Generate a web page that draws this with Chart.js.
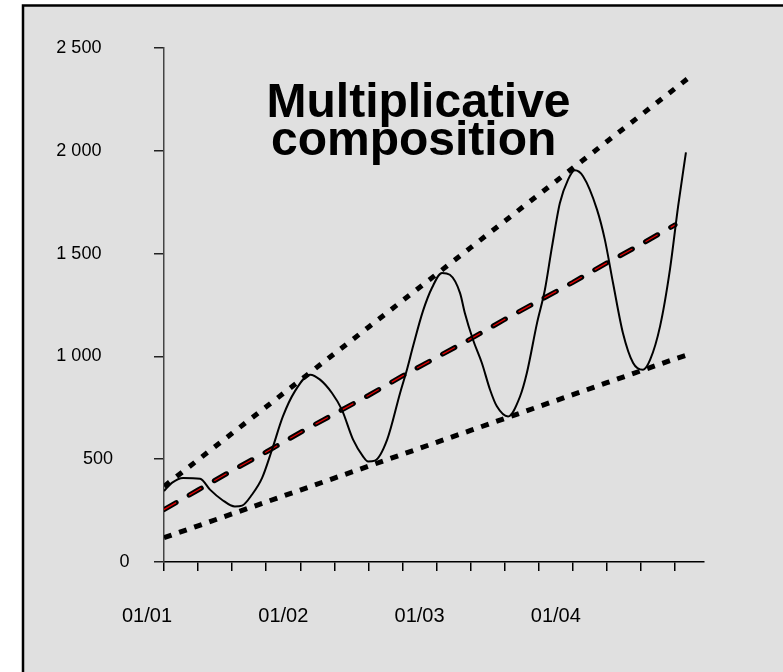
<!DOCTYPE html>
<html>
<head>
<meta charset="utf-8">
<script src="https://cdn.jsdelivr.net/npm/chart.js@4.4.1/dist/chart.umd.min.js"></script>
<style>
  html, body { margin: 0; padding: 0; background: #fff; }
  canvas { display: block; }
</style>
</head>
<body>
<canvas id="chart" width="783" height="672"></canvas>
<script>
// x axis: weeks counted from 01/01, four ticks per month
const monthLabels = ['01/01', '01/02', '01/03', '01/04'];
const ticksPerMonth = 4;
const xMaxWeeks = 15.85;
const yMax = 2500;
const yStep = 500;

// Observed series (solid line)
const seriesWeeks = [0.00, 0.23, 0.56, 1.06, 1.35, 1.70, 2.08, 2.29, 2.58, 2.88,
  3.17, 3.49, 3.84, 4.29, 4.58, 4.93, 5.22, 5.55, 5.84, 5.99,
  6.19, 6.55, 6.93, 7.13, 7.31, 7.60, 7.87, 8.16, 8.39, 8.69,
  8.83, 9.07, 9.33, 9.57, 9.77, 10.10, 10.45, 10.65, 10.95, 11.18,
  11.39, 11.62, 11.86, 12.06, 12.30, 12.71, 12.94, 13.18, 13.47, 13.77,
  14.06, 14.27, 14.56, 14.85, 15.09, 15.32];
const seriesValues = [345, 385, 409, 405, 352, 303, 270, 274, 327, 409,
  546, 708, 830, 911, 887, 822, 741, 595, 514, 489,
  493, 595, 822, 935, 1049, 1220, 1335, 1406, 1397, 1308,
  1211, 1081, 968, 838, 757, 708, 805, 919, 1163, 1324,
  1535, 1746, 1860, 1905, 1876, 1714, 1568, 1357, 1114, 968,
  935, 984, 1146, 1422, 1730, 1992];

// Trend (dashed)
const trendWeeks = [0, 1, 2, 3, 4, 5, 6, 7, 8, 9, 10, 11, 12, 13, 14, 15];
const trendValues = [255, 350, 445, 535, 630, 720, 810, 905, 995, 1085, 1180, 1270, 1360, 1455, 1545, 1640];

// Upper envelope (dotted)
const upperWeeks = [0, 1, 2, 3, 4, 5, 6, 7, 8, 9, 10, 11, 12, 13, 14, 15, 15.54];
const upperValues = [368, 497, 626, 755, 884, 1013, 1142, 1271, 1400, 1529, 1658, 1787, 1916, 2045, 2174, 2303, 2373];

// Lower envelope (dotted)
const lowerWeeks = [0, 1, 2, 3, 4, 5, 6, 7, 8, 9, 10, 11, 12, 13, 14, 15, 15.47];
const lowerValues = [118, 176, 234, 292, 350, 408, 466, 524, 582, 640, 698, 756, 814, 872, 930, 988, 1013];

const toPoints = (xs, ys) => xs.map((x, i) => ({ x: x, y: ys[i] }));

const FONT = '"Liberation Sans", Arial, Helvetica, sans-serif';

function formatThousands(v) {
  if (v >= 1000) {
    const rest = String(v % 1000).padStart(3, '0');
    return Math.floor(v / 1000) + ' ' + rest;
  }
  return String(v);
}

// Grey panel with a black frame behind everything
const panel = {
  id: 'panel',
  beforeDraw(chart) {
    const ctx = chart.ctx;
    ctx.save();
    ctx.fillStyle = '#ffffff';
    ctx.fillRect(0, 0, chart.width, chart.height);
    ctx.fillStyle = '#e0e0e0';
    ctx.fillRect(23, 5.5, chart.width, chart.height);
    ctx.strokeStyle = '#000';
    ctx.lineWidth = 2.5;
    ctx.strokeRect(23, 5.5, chart.width + 20, chart.height + 20);
    ctx.restore();
  }
};

// Value labels of the y axis
const yAxisLabels = {
  id: 'yAxisLabels',
  afterDraw(chart) {
    const s = chart.scales.y;
    const ctx = chart.ctx;
    ctx.save();
    ctx.font = '18px ' + FONT;
    ctx.fillStyle = '#000';
    ctx.textBaseline = 'middle';
    ctx.textAlign = 'right';
    s.ticks.forEach(t => {
      const label = formatThousands(t.value);
      const y = s.getPixelForValue(t.value);
      const gap = label.length >= 5 ? 62.6 : (label.length === 3 ? 51 : 34.6);
      ctx.fillText(label, s.right - gap, y);
    });
    ctx.restore();
  }
};

// Two-line heading inside the plot
const heading = {
  id: 'heading',
  afterDraw(chart) {
    const a = chart.chartArea;
    const ctx = chart.ctx;
    ctx.save();
    ctx.font = 'bold 48px ' + FONT;
    ctx.fillStyle = '#000';
    ctx.textAlign = 'left';
    ctx.textBaseline = 'alphabetic';
    ctx.fillText('Multiplicative', a.left + 102.5, a.top + 68.7);
    ctx.fillText('composition', a.left + 107, a.top + 107);
    ctx.restore();
  }
};

new Chart(document.getElementById('chart'), {
  type: 'line',
  data: {
    datasets: [
      {
        label: 'Series',
        data: toPoints(seriesWeeks, seriesValues),
        borderColor: '#000',
        borderWidth: 2,
        cubicInterpolationMode: 'monotone',
        pointRadius: 0
      },
      {
        label: 'Trend (centre)',
        data: toPoints(trendWeeks, trendValues),
        borderColor: '#e00000',
        borderWidth: 1.3,
        borderDash: [14, 15],
        borderCapStyle: 'butt',
        pointRadius: 0
      },
      {
        label: 'Trend',
        data: toPoints(trendWeeks, trendValues),
        borderColor: '#000',
        borderWidth: 5,
        borderDash: [14, 15],
        borderCapStyle: 'round',
        pointRadius: 0
      },
      {
        label: 'Upper',
        data: toPoints(upperWeeks, upperValues),
        borderColor: '#000',
        borderWidth: 5,
        borderDash: [7, 9],
        borderCapStyle: 'butt',
        pointRadius: 0
      },
      {
        label: 'Lower',
        data: toPoints(lowerWeeks, lowerValues),
        borderColor: '#000',
        borderWidth: 5,
        borderDash: [8, 8],
        borderCapStyle: 'butt',
        pointRadius: 0
      }
    ]
  },
  options: {
    responsive: false,
    animation: false,
    devicePixelRatio: 1,
    layout: { padding: { top: 48, right: 79, left: 0, bottom: 0 } },
    plugins: {
      legend: { display: false },
      tooltip: { enabled: false },
      title: { display: false }
    },
    scales: {
      x: {
        type: 'linear',
        min: 0,
        max: xMaxWeeks,
        afterFit: s => { s.height = 110; },
        grid: {
          drawOnChartArea: false,
          drawTicks: true,
          tickLength: 9,
          color: '#000',
          lineWidth: 1.5
        },
        border: { display: true, color: '#000', width: 1.5 },
        ticks: {
          stepSize: 1,
          includeBounds: false,
          autoSkip: false,
          maxRotation: 0,
          labelOffset: -17,
          padding: 33,
          color: '#000',
          font: { family: FONT, size: 20 },
          callback: v => (Number.isInteger(v) && v % ticksPerMonth === 0) ? (monthLabels[v / ticksPerMonth] || '') : ''
        }
      },
      y: {
        type: 'linear',
        min: 0,
        max: yMax,
        afterFit: s => { s.width = 164; },
        grid: {
          drawOnChartArea: false,
          drawTicks: true,
          tickLength: 10,
          color: '#222',
          lineWidth: 1.5
        },
        border: { display: true, color: '#444', width: 1.5 },
        ticks: {
          stepSize: yStep,
          display: false
        }
      }
    }
  },
  plugins: [panel, yAxisLabels, heading]
});
</script>
</body>
</html>
